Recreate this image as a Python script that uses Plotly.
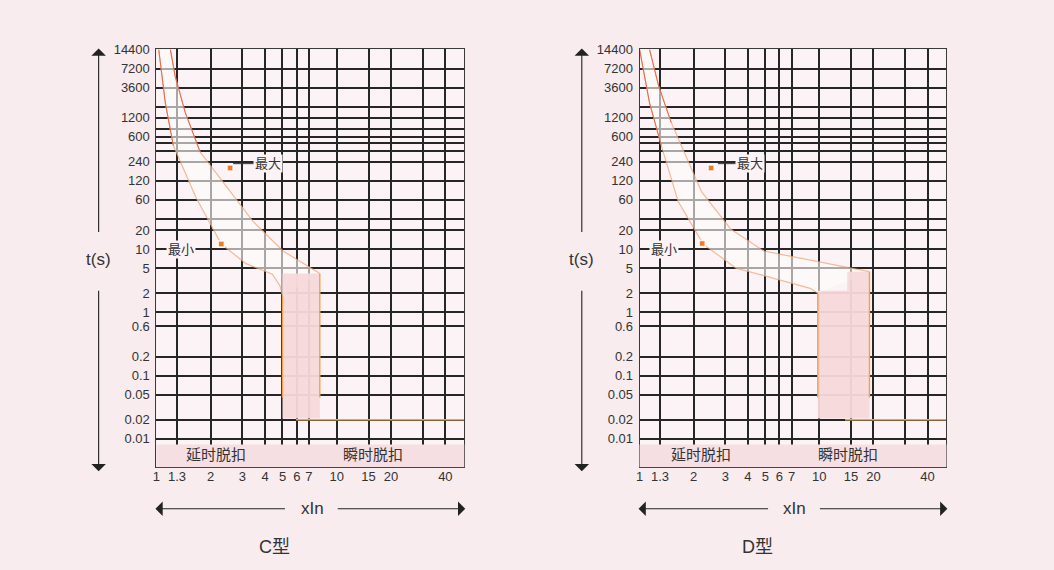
import numpy as np
import plotly.graph_objects as go

W, H = 1054, 570
FONT = "Liberation Sans, Arial, Noto Sans CJK SC, sans-serif"

# ---------------- data ----------------
x_tickvals = [1, 1.3, 2, 3, 4, 5, 6, 7, 10, 15, 20, 30, 40]
x_ticktext = ["1", "1.3", "2", "3", "4", "5", "6", "7", "10", "15", "20", "", "40"]
y_tickvals = [14400, 7200, 3600, 1800, 1200, 800, 600, 480, 360, 240, 120, 60, 30,
              20, 10, 5, 2, 1, 0.6, 0.2, 0.1, 0.05, 0.02, 0.01]
y_ticktext = ["14400", "7200", "3600", "", "1200", "", "600", "", "", "240", "120", "60", "",
              "20", "10", "5", "2", "1", "0.6", "0.2", "0.1", "0.05", "0.02", "0.01"]
x_max = 50.9
t_min, t_max = 0.00354, 14400
band_top = 0.0081

# C type
c_min_x = [1.03, 1.12, 1.24, 1.66, 2.29, 3.14, 4.4, 4.85, 5.0]
c_min_t = [14400, 2063, 438, 65, 12, 5.9, 4.0, 2.6, 1.8]
c_max_x = [1.195, 1.27, 1.446, 1.75, 3.43, 5.03, 8.05]
c_max_t = [14400, 5445, 1439, 341, 27.5, 9.35, 4.1]
c_inst = [5.0, 8.05]          # instantaneous limits (xIn)
c_inst_top = [1.8, 4.1]
c_inst_bottom = 0.045
c_rect_t = [0.021, 4.1]
c_floor_x = [5.94, x_max]
c_floor_t = 0.02
c_mark_x = [2.56, 2.29]       # 最大, 最小
c_mark_t = [192, 12]

# D type
d_min_x = [1.0, 1.136, 1.32, 1.64, 2.26, 3.44, 8.9, 9.8]
d_min_t = [14400, 2063, 438, 56.5, 12, 5.0, 2.4, 2.0]
d_max_x = [1.136, 1.277, 1.50, 1.937, 2.21, 3.22, 4.9, 13.6, 19.0]
d_max_t = [14400, 3800, 1004, 192, 81, 20.6, 9.35, 5.3, 4.4]
d_inst = [9.8, 19.0]
d_inst_top = [2.0, 4.4]
d_inst_bottom = 0.045
d_rect_x = [9.8, 9.8, 14.3, 14.3, 19.0, 19.0]
d_rect_t = [0.021, 2.2, 2.2, 4.4, 4.4, 0.021]
d_floor_x = [13.9, x_max]
d_floor_t = 0.02
d_mark_x = [2.5, 2.23]
d_mark_t = [192, 12.3]

labels_band = ["延时脱扣", "瞬时脱扣"]
panel_titles = ["C型", "D型"]

# ---------------- figure ----------------
fig = go.Figure()

RED = "#e4694a"
PALE = "rgba(241,160,112,0.7)"
ORANGE = "#f4a04a"


def add_panel(xa, ya, min_x, min_t, max_x, max_t, inst, inst_top, inst_bot,
              rect_x, rect_t, floor_x, floor_t, mark_x, mark_t):
    px_ = list(min_x) + list(max_x)[::-1]
    pt_ = list(min_t) + list(max_t)[::-1]
    fig.add_trace(go.Scatter(x=px_, y=pt_, fill="toself", mode="none",
                             fillcolor="rgba(255,253,251,0.6)", xaxis=xa, yaxis=ya,
                             hoverinfo="skip", showlegend=False))
    fig.add_trace(go.Scatter(x=rect_x, y=rect_t, fill="toself", mode="none",
                             fillcolor="rgba(247,216,218,0.95)", xaxis=xa, yaxis=ya,
                             hoverinfo="skip", showlegend=False))
    for cx, ct in ((min_x, min_t), (max_x, max_t)):
        cx = np.array(cx); ct = np.array(ct)
        fig.add_trace(go.Scatter(x=cx, y=ct, mode="lines", line=dict(color=PALE, width=1.2),
                                 xaxis=xa, yaxis=ya, hoverinfo="skip", showlegend=False))
        m = ct >= 300
        fig.add_trace(go.Scatter(x=cx[m], y=ct[m], mode="lines", line=dict(color=RED, width=1),
                                 xaxis=xa, yaxis=ya, hoverinfo="skip", showlegend=False))
    for xv, tt in zip(inst, inst_top):
        fig.add_trace(go.Scatter(x=[xv, xv], y=[tt, inst_bot], mode="lines",
                                 line=dict(color=ORANGE, width=1.4), xaxis=xa, yaxis=ya,
                                 hoverinfo="skip", showlegend=False))
    fig.add_trace(go.Scatter(x=floor_x, y=[floor_t, floor_t], mode="lines",
                             line=dict(color=ORANGE, width=1.4), xaxis=xa, yaxis=ya,
                             hoverinfo="skip", showlegend=False))
    fig.add_trace(go.Scatter(x=mark_x, y=mark_t, mode="markers",
                             marker=dict(symbol="square", size=6, color="#ee7a2e",
                                         line=dict(color="rgba(255,255,255,0.8)", width=1.5)),
                             xaxis=xa, yaxis=ya, hoverinfo="skip", showlegend=False))


add_panel("x", "y", c_min_x, c_min_t, c_max_x, c_max_t, c_inst, c_inst_top, c_inst_bottom,
          [c_inst[0], c_inst[0], c_inst[1], c_inst[1]],
          [c_rect_t[0], c_rect_t[1], c_rect_t[1], c_rect_t[0]],
          c_floor_x, c_floor_t, c_mark_x, c_mark_t)
add_panel("x2", "y2", d_min_x, d_min_t, d_max_x, d_max_t, d_inst, d_inst_top, d_inst_bottom,
          d_rect_x, d_rect_t, d_floor_x, d_floor_t, d_mark_x, d_mark_t)

GRID = "#262626"
TICKFONT = dict(family=FONT, size=13, color="#333")


def xaxis_cfg(left, right, anchor):
    return dict(type="log", range=[0, np.log10(x_max)], domain=[left / W, right / W],
                anchor=anchor, tickvals=x_tickvals, ticktext=x_ticktext,
                showgrid=True, gridcolor=GRID, gridwidth=1.5, zeroline=False,
                showline=True, mirror=True, linecolor="#3a3a3a", linewidth=1,
                ticks="", tickfont=TICKFONT, ticklabelstandoff=-3, fixedrange=True)


def yaxis_cfg(anchor):
    return dict(type="log", range=[np.log10(t_min), np.log10(t_max)],
                domain=[1 - 466 / H, 1 - 43 / H], anchor=anchor,
                tickvals=y_tickvals, ticktext=y_ticktext,
                showgrid=True, gridcolor=GRID, gridwidth=1.5, zeroline=False,
                showline=True, mirror=True, linecolor="#3a3a3a", linewidth=1,
                ticks="", tickfont=TICKFONT, ticklabelstandoff=3, fixedrange=True)


panels = [("x", "y", 153, 462), ("x2", "y2", 638, 946)]

shapes = []
annotations = []
for (xa, ya, left, right) in panels:
    shapes.append(dict(type="rect", xref=f"{xa} domain", yref=ya, x0=0, x1=1,
                       y0=t_min, y1=band_top, fillcolor="#f6dfe2",
                       line=dict(width=0), layer="above"))

c_band_x = [2.15, 15.8]
d_band_x = [2.2, 14.5]
for (xa, ya, left, right), bx in zip(panels, (c_band_x, d_band_x)):
    for lab, xv in zip(labels_band, bx):
        annotations.append(dict(x=np.log10(xv), y=np.log10(0.0056), xref=xa, yref=ya,
                                text=lab, showarrow=False, xanchor="center", yanchor="middle",
                                font=dict(family=FONT, size=15, color="#333")))

lead = [("x", "y", 2.66, 225, 35, "最大"), ("x", "y", 1.94, 10, -27, "最小"),
        ("x2", "y2", 2.73, 225, 32, "最大"), ("x2", "y2", 2.2, 10, -37, "最小")]
for xa, ya, xv, tv, ax, txt in lead:
    annotations.append(dict(x=np.log10(xv), y=np.log10(tv), xref=xa, yref=ya,
                            text=txt, showarrow=True, arrowhead=0, arrowwidth=1,
                            arrowcolor="#333", ax=ax, ay=0, standoff=0,
                            bgcolor="#fbf3f5", borderpad=1,
                            font=dict(family=FONT, size=13, color="#333")))


def P(x, y):
    return x / W, 1 - y / H


for (xa, ya, left, right), title in zip(panels, panel_titles):
    ax_x = left - 58
    cx = (left + right) / 2
    x0, y0 = P(ax_x, 256)
    annotations.append(dict(x=x0, y=y0, xref="paper", yref="paper", text="t(s)",
                            xanchor="center", yanchor="middle",
                            showarrow=False, font=dict(family=FONT, size=17, color="#333")))
    for tip_y, off in ((42, 185), (470, -182)):
        xt, yt = P(ax_x, tip_y)
        annotations.append(dict(x=xt, y=yt, xref="paper", yref="paper", text="",
                                showarrow=True, arrowhead=1, arrowsize=2.2, arrowwidth=1.1,
                                arrowcolor="#222", ax=0, ay=off, standoff=0))
    x1, y1 = P(cx + 2, 508)
    annotations.append(dict(x=x1, y=y1, xref="paper", yref="paper", text="xIn",
                            xanchor="center", yanchor="middle",
                            showarrow=False, font=dict(family=FONT, size=17, color="#333")))
    for tip_x, off in ((left - 1, 131), (right + 1, -129)):
        xt, yt = P(tip_x, 508)
        annotations.append(dict(x=xt, y=yt, xref="paper", yref="paper", text="",
                                showarrow=True, arrowhead=1, arrowsize=2.2, arrowwidth=1.1,
                                arrowcolor="#222", ax=off, ay=0, standoff=0))
    x2_, y2_ = P(cx - 36, 547)
    annotations.append(dict(x=x2_, y=y2_, xref="paper", yref="paper", text=title,
                            xanchor="center", yanchor="middle",
                            showarrow=False, font=dict(family=FONT, size=18, color="#333")))

fig.update_layout(
    width=W, height=H, margin=dict(l=0, r=0, t=0, b=0),
    paper_bgcolor="#f8ecef", plot_bgcolor="#fbf3f5",
    xaxis=xaxis_cfg(153, 462, "y"), yaxis=yaxis_cfg("x"),
    xaxis2=xaxis_cfg(638, 946, "y2"), yaxis2=yaxis_cfg("x2"),
    shapes=shapes, annotations=annotations, showlegend=False,
    font=dict(family=FONT, color="#333"),
)

fig.write_html("out.html", config={"displayModeBar": False},
               post_script="document.body.style.margin='0';document.body.style.padding='0';"
                           "document.body.style.background='#f8ecef';")
